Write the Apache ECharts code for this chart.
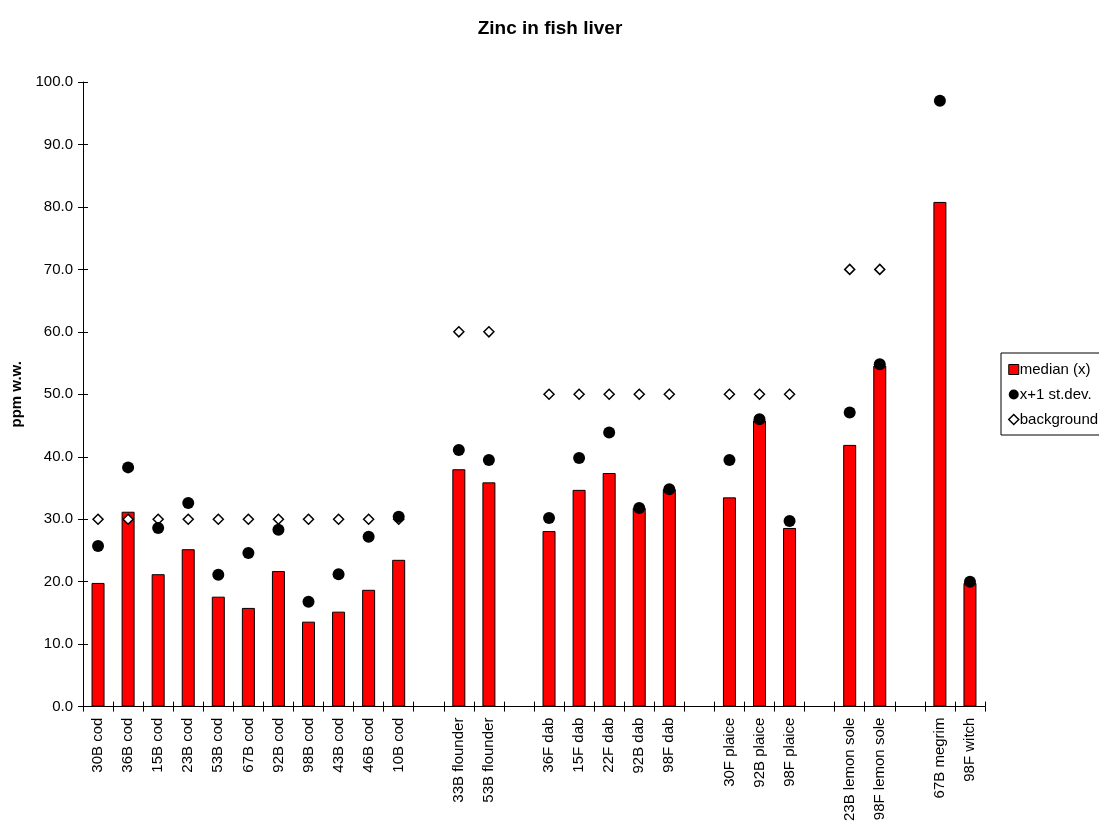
<!DOCTYPE html>
<html><head><meta charset="utf-8">
<script src="https://cdn.jsdelivr.net/npm/echarts@6/dist/echarts.min.js"></script>
<style>html,body{margin:0;padding:0;background:#fff}#c{width:1099px;height:824px}</style>
</head><body><div id="c"></div>
<script>
const categories = ['30B cod','36B cod','15B cod','23B cod','53B cod','67B cod','92B cod','98B cod','43B cod','46B cod','10B cod','',
  '33B flounder','53B flounder','',
  '36F dab','15F dab','22F dab','92B dab','98F dab','',
  '30F plaice','92B plaice','98F plaice','',
  '23B lemon sole','98F lemon sole','',
  '67B megrim','98F witch'];
const median = [19.8,31.2,21.2,25.2,17.6,15.8,21.7,13.6,15.2,18.7,23.5,null,
  38.0,35.9,null,
  28.1,34.7,37.4,31.8,34.8,null,
  33.5,45.8,28.6,null,
  41.9,54.6,null,
  80.8,19.8];
const plusSd = [25.7,38.3,28.6,32.6,21.1,24.6,28.3,16.8,21.2,27.2,30.4,null,
  41.1,39.5,null,
  30.2,39.8,43.9,31.8,34.8,null,
  39.5,46.0,29.7,null,
  47.1,54.8,null,
  97.0,20.0];
const background = [30,30,30,30,30,30,30,30,30,30,30,null,
  60,60,null,
  50,50,50,50,50,null,
  50,50,50,null,
  70,70,null,
  null,null];
const yTicks = {min:0, max:100, interval:10};

const font = 'Liberation Sans, Arial, sans-serif';
const chart = echarts.init(document.getElementById('c'), null, {renderer:'canvas'});
chart.setOption({
  animation:false,
  backgroundColor:'#fff',
  title:{text:'Zinc in fish liver', left:545, top:14, textAlign:'center',
    textStyle:{fontFamily:font, fontSize:19, fontWeight:'bold', color:'#000'}},
  legend:{
    orient:'vertical', left:1001, top:353, padding:[9,4,8,7], itemGap:10,
    borderColor:'#000', borderWidth:1, borderRadius:0, itemWidth:10, itemHeight:10,
    textStyle:{fontFamily:font, fontSize:15, lineHeight:15, color:'#000', padding:[0,0,0,-4]},
    data:[
      {name:'median (x)', icon:'rect', itemStyle:{color:'#ff0000', borderColor:'#000', borderWidth:1}},
      {name:'x+1 st.dev.', icon:'circle', itemStyle:{color:'#000'}},
      {name:'background', icon:'diamond', itemStyle:{color:'#fff', borderColor:'#000', borderWidth:1.5}}
    ]
  },
  grid:{left:83, right:114, top:82, bottom:117, containLabel:false},
  xAxis:[{
    type:'category', data:categories, boundaryGap:true,
    axisLine:{lineStyle:{color:'#000', width:1}},
    axisTick:{show:true, interval:0, length:5, lineStyle:{color:'#000'}},
    axisLabel:{interval:0, rotate:90, margin:11, fontFamily:font, fontSize:15, color:'#000'},
    splitLine:{show:false}
  },{
    type:'category', data:categories, boundaryGap:true, position:'bottom',
    axisLine:{show:false},
    axisTick:{show:true, inside:true, interval:0, length:5, lineStyle:{color:'#000'}},
    axisLabel:{show:false}, splitLine:{show:false}
  }],
  yAxis:[{
    type:'value', min:yTicks.min, max:yTicks.max, interval:yTicks.interval,
    name:'ppm w.w.', nameLocation:'middle', nameGap:55, nameRotate:90,
    nameTextStyle:{fontFamily:font, fontSize:15, fontWeight:'bold', color:'#000'},
    axisLine:{show:true, lineStyle:{color:'#000'}},
    axisTick:{show:true, length:5, lineStyle:{color:'#000'}},
    axisLabel:{formatter:v=>v.toFixed(1), fontFamily:font, fontSize:15, color:'#000', margin:10},
    splitLine:{show:false}
  },{
    type:'value', min:yTicks.min, max:yTicks.max, interval:yTicks.interval, position:'left',
    axisLine:{show:false},
    axisTick:{show:true, inside:true, length:5, lineStyle:{color:'#000'}},
    axisLabel:{show:false}, splitLine:{show:false}
  }],
  series:[
    {name:'median (x)', type:'bar', data:median, barWidth:13, xAxisIndex:0, yAxisIndex:0,
      itemStyle:{color:'#ff0000', borderColor:'#000', borderWidth:1}, z:2},
    {name:'x+1 st.dev.', type:'scatter', data:plusSd, symbol:'circle', symbolSize:12,
      itemStyle:{color:'#000', opacity:1}, z:4},
    {name:'background', type:'scatter', data:background, symbol:'diamond', symbolSize:[10,10],
      itemStyle:{color:'#fff', borderColor:'#000', borderWidth:1.5, opacity:1}, z:3}
  ]
});
</script></body></html>
